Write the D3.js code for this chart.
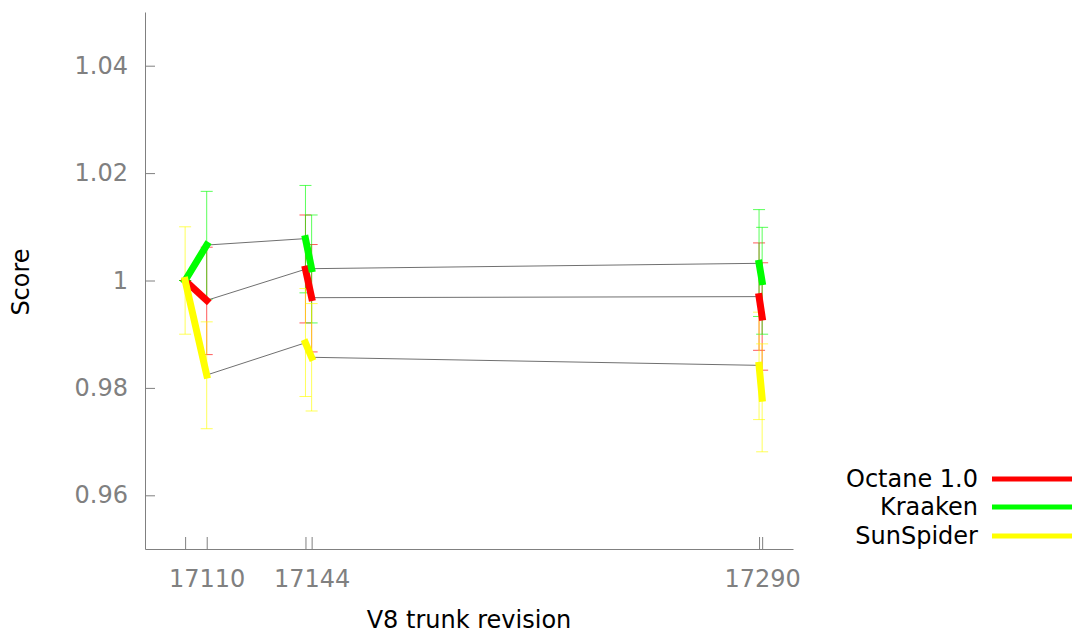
<!DOCTYPE html>
<html>
<head>
<meta charset="utf-8">
<script src="https://cdn.jsdelivr.net/npm/d3@7"></script>
<style>
  html, body { margin: 0; padding: 0; background: #fff; }
  svg { display: block; font-family: "DejaVu Sans", sans-serif; }
</style>
</head>
<body>
<svg id="chart" width="1077" height="635"></svg>
<script>
// ---- data ----
const revisions = [17103, 17110, 17142, 17144, 17289, 17290];
const xTickLabels = ["", "17110", "", "17144", "", "17290"];
const yTicks = [0.96, 0.98, 1, 1.02, 1.04];
const yTickLabels = ["0.96", "0.98", "1", "1.02", "1.04"];
const seriesNames = ["Octane 1.0", "Kraaken", "SunSpider"];
const seriesColors = ["#ff0000", "#00ff00", "#ffff00"];

const octane    = [1.0000, 0.9963, 1.0021, 0.9968, 0.9970, 0.9932];
const octaneLo  = [1.0000, 0.9862, 0.9921, 0.9867, 0.9870, 0.9833];
const octaneHi  = [1.0000, 1.0062, 1.0122, 1.0067, 1.0070, 1.0033];

const kraaken   = [1.0000, 1.0066, 1.0078, 1.0022, 1.0032, 0.9998];
const kraakenLo = [1.0000, 0.9965, 0.9977, 0.9921, 0.9933, 0.9900];
const kraakenHi = [1.0000, 1.0166, 1.0177, 1.0122, 1.0132, 1.0099];

const sunspider   = [1.0000, 0.9824, 0.9884, 0.9857, 0.9842, 0.9781];
const sunspiderLo = [0.9900, 0.9724, 0.9784, 0.9757, 0.9741, 0.9681];
const sunspiderHi = [1.0100, 0.9923, 0.9985, 0.9957, 0.9941, 0.9882];

const xDomain = [17090, 17300];
const yDomain = [0.95, 1.05];

// ---- build ----
const series = [
  { name: seriesNames[0], color: seriesColors[0], v: octane, lo: octaneLo, hi: octaneHi },
  { name: seriesNames[1], color: seriesColors[1], v: kraaken, lo: kraakenLo, hi: kraakenHi },
  { name: seriesNames[2], color: seriesColors[2], v: sunspider, lo: sunspiderLo, hi: sunspiderHi }
];

const svg = d3.select("#chart");
const pLeft = 145, pRight = 793, pTop = 12, pBottom = 549;
const x = d3.scaleLinear().domain(xDomain).range([pLeft, pRight]);
const y = d3.scaleLinear().domain(yDomain).range([pBottom, pTop]);
const axisGray = "#808080";
const FS = 24;

// axes
const xAxis = d3.axisBottom(x)
  .tickValues(revisions)
  .tickFormat((d, i) => xTickLabels[i])
  .tickSizeInner(-12).tickSizeOuter(0).tickPadding(21);
const gx = svg.append("g").attr("transform", `translate(0,${pBottom})`).call(xAxis);

const yAxis = d3.axisLeft(y)
  .tickValues(yTicks)
  .tickFormat((d, i) => yTickLabels[i])
  .tickSizeInner(-10).tickSizeOuter(0).tickPadding(17);
const gy = svg.append("g").attr("transform", `translate(${pLeft},0)`).call(yAxis);

[gx, gy].forEach(g => {
  g.select(".domain").attr("stroke", axisGray).attr("stroke-width", 1);
  g.selectAll(".tick line").attr("stroke", axisGray).attr("stroke-width", 1);
  g.selectAll(".tick text").attr("fill", axisGray).attr("font-size", FS)
    .attr("font-family", "DejaVu Sans, sans-serif");
});

// axis titles
svg.append("text").attr("x", 469).attr("y", 628).attr("text-anchor", "middle")
  .attr("font-size", FS).attr("fill", "#000").text("V8 trunk revision");
svg.append("text").attr("transform", "translate(29,282) rotate(-90)")
  .attr("text-anchor", "middle").attr("font-size", FS).attr("fill", "#000").text("Score");

// error bars
const capHalf = 6;
const gErr = svg.append("g");
series.forEach(s => {
  revisions.forEach((r, i) => {
    const cx = x(r);
    const g = gErr.append("g").attr("stroke", s.color).attr("stroke-opacity", 0.65).attr("stroke-width", 1);
    g.append("line").attr("x1", cx).attr("x2", cx).attr("y1", y(s.lo[i])).attr("y2", y(s.hi[i]));
    g.append("line").attr("x1", cx - capHalf).attr("x2", cx + capHalf).attr("y1", y(s.lo[i])).attr("y2", y(s.lo[i]));
    g.append("line").attr("x1", cx - capHalf).attr("x2", cx + capHalf).attr("y1", y(s.hi[i])).attr("y2", y(s.hi[i]));
  });
});

// gray connectors between revisions (end of pair -> start of next pair)
const gGray = svg.append("g");
series.forEach(s => {
  for (let i = 1; i + 1 < revisions.length; i += 2) {
    gGray.append("line")
      .attr("x1", x(revisions[i])).attr("y1", y(s.v[i]))
      .attr("x2", x(revisions[i + 1])).attr("y2", y(s.v[i + 1]))
      .attr("stroke", "#707070").attr("stroke-width", 1);
  }
});

// thick colored segments within each revision pair
const gThick = svg.append("g");
series.forEach(s => {
  for (let i = 0; i + 1 < revisions.length; i += 2) {
    gThick.append("line")
      .attr("x1", x(revisions[i])).attr("y1", y(s.v[i]))
      .attr("x2", x(revisions[i + 1])).attr("y2", y(s.v[i + 1]))
      .attr("stroke", s.color).attr("stroke-width", 7).attr("stroke-linecap", "square");
  }
});

// legend
const legY = [479, 507, 536];
series.forEach((s, i) => {
  svg.append("text").attr("x", 978).attr("y", legY[i]).attr("dy", "0.35em")
    .attr("text-anchor", "end").attr("font-size", FS).attr("fill", "#000").text(s.name);
  svg.append("line").attr("x1", 992).attr("x2", 1072).attr("y1", legY[i]).attr("y2", legY[i])
    .attr("stroke", s.color).attr("stroke-width", 5);
});
</script>
</body>
</html>
